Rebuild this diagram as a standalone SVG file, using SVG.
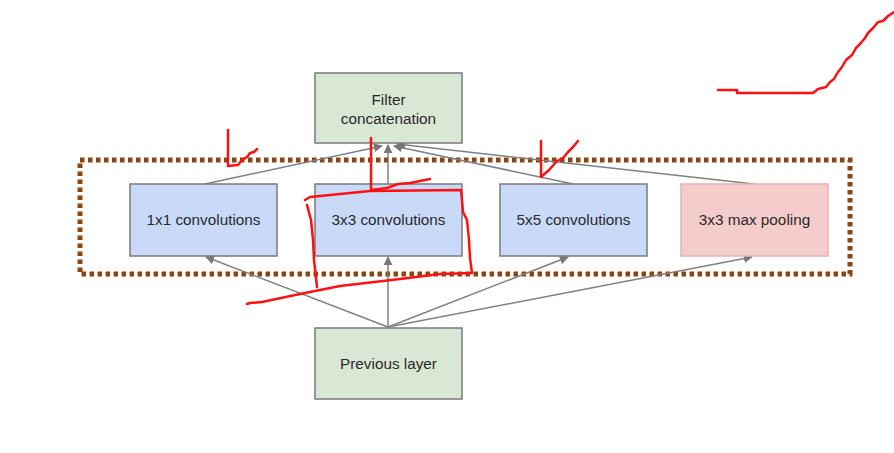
<svg xmlns="http://www.w3.org/2000/svg" width="894" height="453" viewBox="0 0 894 453">
<defs>
<marker id="arr" viewBox="0 0 10 10" refX="9" refY="5" markerWidth="9" markerHeight="9" markerUnits="userSpaceOnUse" orient="auto">
<path d="M0,0 L10,5 L0,10 z" fill="#777"/>
</marker>
</defs>
<style>
.box rect{stroke-width:1.5}
.green rect{fill:#d9e7d5;stroke:#7a7a7a}
.blue rect{fill:#c9daf8;stroke:#7a7a7a}
.red rect{fill:#f4cccc;stroke:#e8b0b0}
text{font-family:"Liberation Sans",Arial,sans-serif;font-size:15.3px;fill:#2a2a2a;text-anchor:middle}
.conn line{stroke:#808080;stroke-width:1.5;marker-end:url(#arr)}
.ink{fill:none;stroke:#ff1010;stroke-width:2.5;stroke-linecap:round;stroke-linejoin:round}
</style>
<rect width="894" height="453" fill="#fff"/>
<rect x="80" y="160" width="770" height="114" fill="none" stroke="#8b4513" stroke-width="5" stroke-dasharray="4.5,3.5"/>
<g class="conn">
<line x1="205" y1="184" x2="382" y2="146"/>
<line x1="388" y1="184" x2="388" y2="145"/>
<line x1="573" y1="184" x2="394" y2="146"/>
<line x1="754" y1="184" x2="397" y2="144"/>
<line x1="388" y1="327" x2="206" y2="257"/>
<line x1="388" y1="327" x2="388" y2="257"/>
<line x1="388" y1="327" x2="568" y2="257"/>
<line x1="388" y1="327" x2="752" y2="257"/>
</g>
<g id="filter" class="box green"><rect x="315" y="73" width="147" height="70"/><text x="388.5" y="105">Filter</text><text x="388.5" y="124">concatenation</text></g>
<g id="conv1" class="box blue"><rect x="130" y="184" width="147" height="72"/><text x="203.5" y="225">1x1 convolutions</text></g>
<g id="conv3" class="box blue"><rect x="315" y="184" width="147" height="72"/><text x="388.5" y="225">3x3 convolutions</text></g>
<g id="conv5" class="box blue"><rect x="500" y="184" width="147" height="72"/><text x="573.5" y="225">5x5 convolutions</text></g>
<g id="pool" class="box red"><rect x="681" y="184" width="147" height="72"/><text x="754.5" y="225">3x3 max pooling</text></g>
<g id="prev" class="box green"><rect x="315" y="328" width="147" height="71"/><text x="388.5" y="369">Previous layer</text></g>
<g id="annotations">
<path class="ink" d="M228,130 L228,166 L238,165 L242,160 L247,157 L250,153 L254,152 L257,149"/>
<path class="ink" d="M371,138 L371,190 L387,188 L398,184 L410,183 L420,181 L430,179"/>
<path class="ink" d="M305,200 L310,197 L370,191 L461,190 L462,200 L463,212 L467,220 L469,240 L470,258 L472,273 L440,274 L400,279 L340,286 L300,294 L262,302 L250,303 L247,304"/>
<path class="ink" d="M307,205 L311,220 L313,240 L314,260 L317,287"/>
<path class="ink" d="M541,141 L541,177 L549,170 L557,161 L563,158 L568,152 L573,147 L578,141"/>
<path class="ink" d="M718,90 L737,90 L737,93 L813,93 L818,89 L826,87 L830,82 L834,79 L838,72 L842,67 L846,60 L852,55 L856,48 L860,44 L865,38 L868,33 L873,28 L878,22 L883,21 L888,16 L894,12"/>
</g>
</svg>
